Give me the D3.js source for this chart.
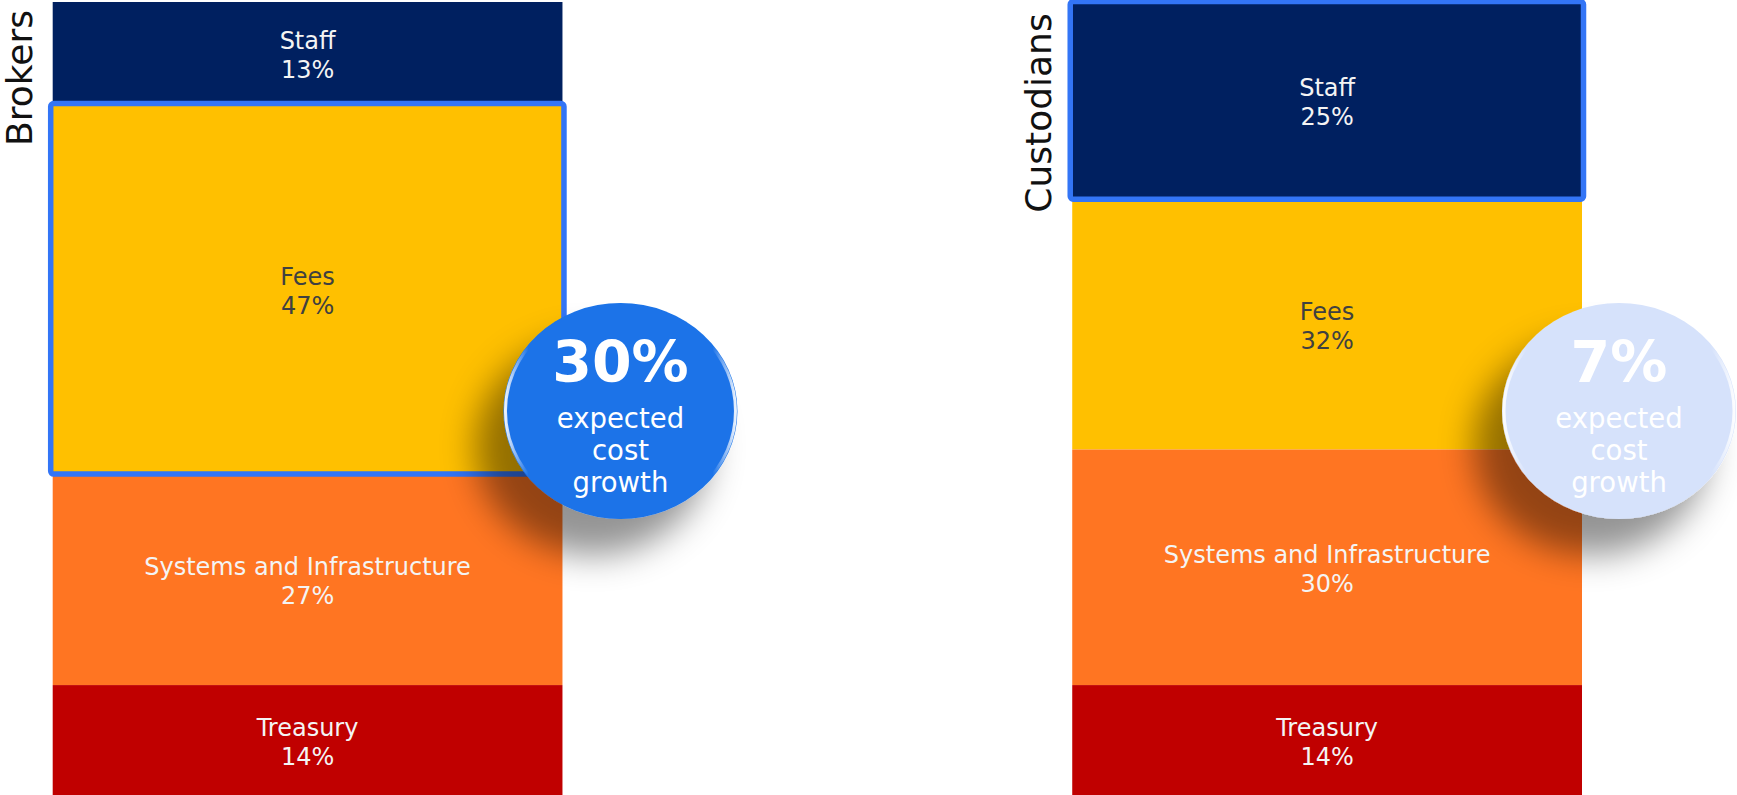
<!DOCTYPE html>
<html>
<head>
<meta charset="utf-8">
<script src="https://cdn.jsdelivr.net/npm/d3@7"></script>
<style>
  html, body { margin: 0; padding: 0; background: #ffffff; }
  svg { display: block; }
</style>
</head>
<body>
<svg id="chart" width="1737" height="795"></svg>
<script>
// Cost composition by firm type (share of total cost, %)
const categories = ["Brokers", "Custodians"];
const segments = ["Staff", "Fees", "Systems and Infrastructure", "Treasury"];
const brokersShares = [13, 47, 27, 14];
const custodiansShares = [25, 32, 30, 14];
const highlightedSegment = ["Fees", "Staff"];
const growthValues = [30, 7];
const growthCaption = ["expected", "cost", "growth"];

const W = 1737, H = 795;
const FONT = "'DejaVu Sans', 'Open Sans', sans-serif";

const segmentColor = d3.scaleOrdinal()
  .domain(segments)
  .range(["#002060", "#FFC000", "#FF7522", "#C00000"]);
const labelColor = d3.scaleOrdinal()
  .domain(segments)
  .range(["#f4f4f4", "#404040", "#f4f4f4", "#f4f4f4"]);
const bubbleFill = ["#1A73E8", "#D6E2FB"];
const bubbleOffset = [58, 37];   // gap from bar's right edge to bubble centre
const highlightStroke = "#3375F6";

const shareTable = [brokersShares, custodiansShares];
const rows = categories.map((c, i) => {
  const r = { category: c };
  segments.forEach((s, j) => { r[s] = shareTable[i][j]; });
  return r;
});
const totals = rows.map(r => d3.sum(segments, s => r[s]));

const stacked = d3.stack().keys(segments)(rows);

const x = d3.scaleBand()
  .domain(categories)
  .range([52.7, 1582])
  .paddingInner(0.5)
  .paddingOuter(0);

const y = d3.scaleLinear()
  .domain([0, d3.max(totals)])
  .range([2, 795]);

const svg = d3.select("#chart");
const defs = svg.append("defs");

// soft drop shadow cast down-left by the bubbles
const shadow = defs.append("filter")
  .attr("id", "bubbleShadow")
  .attr("x", "-60%").attr("y", "-60%")
  .attr("width", "220%").attr("height", "220%");
shadow.append("feDropShadow")
  .attr("dx", -28).attr("dy", 36)
  .attr("stdDeviation", 17)
  .attr("flood-color", "#000")
  .attr("flood-opacity", 0.42);

// glossy rim highlight on the left and right sides of each bubble
const rim = defs.append("linearGradient")
  .attr("id", "rimGloss")
  .attr("x1", "0%").attr("x2", "100%").attr("y1", "0%").attr("y2", "0%");
[[0, 0.9], [0.1, 0.0], [0.9, 0.0], [1, 0.9]].forEach(([o, a]) => {
  rim.append("stop").attr("offset", o).attr("stop-color", "#fff").attr("stop-opacity", a);
});

// stacked bars
const layer = svg.append("g").attr("class", "bars")
  .selectAll("g")
  .data(stacked)
  .join("g")
  .attr("fill", d => segmentColor(d.key));

layer.selectAll("rect")
  .data(d => d.map(p => ({ key: d.key, cat: p.data.category, y0: p[0], y1: p[1] })))
  .join("rect")
  .attr("x", d => x(d.cat))
  .attr("width", x.bandwidth())
  .attr("y", d => y(d.y0))
  .attr("height", d => y(d.y1) - y(d.y0));

// segment labels: name and share
const labelData = stacked.flatMap(d => d.map(p => ({
  key: d.key, cat: p.data.category, y0: p[0], y1: p[1], v: p[1] - p[0]
})));

const labels = svg.append("g").attr("class", "labels")
  .selectAll("text")
  .data(labelData)
  .join("text")
  .attr("text-anchor", "middle")
  .attr("font-family", FONT)
  .attr("font-size", 24)
  .attr("fill", d => labelColor(d.key))
  .attr("x", d => x(d.cat) + x.bandwidth() / 2)
  .attr("y", d => (y(d.y0) + y(d.y1)) / 2);

labels.append("tspan")
  .attr("x", d => x(d.cat) + x.bandwidth() / 2)
  .attr("dy", -4)
  .text(d => d.key);
labels.append("tspan")
  .attr("x", d => x(d.cat) + x.bandwidth() / 2)
  .attr("dy", 29)
  .text(d => `${d.v}%`);

// outline around the highlighted segment of each bar
svg.append("g").attr("class", "highlight")
  .selectAll("rect")
  .data(categories.map((c, i) => {
    const layerIdx = segments.indexOf(highlightedSegment[i]);
    const p = stacked[layerIdx][i];
    return { cat: c, y0: p[0], y1: p[1] };
  }))
  .join("rect")
  .attr("x", d => x(d.cat) - 2)
  .attr("width", x.bandwidth() + 3.5)
  .attr("y", d => y(d.y0) - 0.5)
  .attr("height", d => y(d.y1) - y(d.y0) + 1.5)
  .attr("rx", 3)
  .attr("fill", "none")
  .attr("stroke", highlightStroke)
  .attr("stroke-width", 5.5);

// category titles, rotated along the left side of each bar
svg.append("g").attr("class", "titles")
  .selectAll("text")
  .data(categories)
  .join("text")
  .attr("transform", (d, i) => {
    const tx = x(d) - 21;
    const ty = i === 0 ? 78 : 113;
    return `translate(${tx},${ty}) rotate(-90)`;
  })
  .attr("text-anchor", "middle")
  .attr("font-family", FONT)
  .attr("font-weight", 400)
  .attr("font-size", 36)
  .attr("fill", "#111")
  .text(d => d);

// growth bubbles
const bubbles = svg.append("g").attr("class", "bubbles")
  .selectAll("g")
  .data(categories.map((c, i) => ({ cat: c, v: growthValues[i], i })))
  .join("g")
  .attr("transform", d => `translate(${x(d.cat) + x.bandwidth() + bubbleOffset[d.i]},411)`);

bubbles.append("ellipse")
  .attr("rx", 117).attr("ry", 108)
  .attr("fill", d => bubbleFill[d.i])
  .attr("filter", "url(#bubbleShadow)");

bubbles.append("ellipse")
  .attr("rx", 115).attr("ry", 106)
  .attr("fill", "none")
  .attr("stroke", "url(#rimGloss)")
  .attr("stroke-width", 3);

bubbles.append("text")
  .attr("text-anchor", "middle")
  .attr("font-family", FONT)
  .attr("font-weight", 700)
  .attr("font-size", 57)
  .attr("fill", "#fff")
  .attr("y", -29)
  .text(d => `${d.v}%`);

bubbles.selectAll("text.caption")
  .data(growthCaption)
  .join("text")
  .attr("class", "caption")
  .attr("text-anchor", "middle")
  .attr("font-family", FONT)
  .attr("font-size", 27.5)
  .attr("fill", "#fff")
  .attr("y", (d, k) => 17 + k * 32)
  .text(d => d);
</script>
</body>
</html>
